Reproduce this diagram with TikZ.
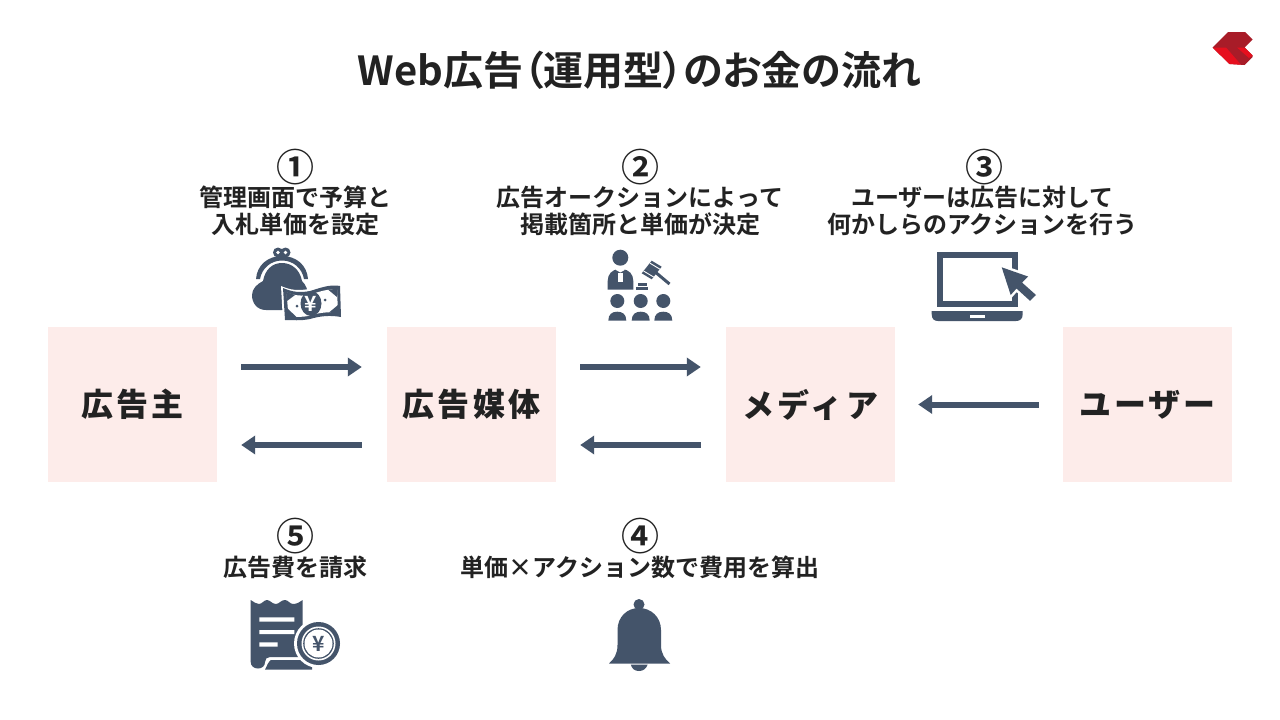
\documentclass[tikz,border=0pt]{standalone}
\usepackage{fontspec}
\usetikzlibrary{arrows.meta,calc}
\setmainfont{Noto Sans CJK JP}[BoldFont=* Bold]
\newfontfamily\spaced{Noto Sans CJK JP}[BoldFont=* Black,LetterSpace=10]
\newfontfamily\titlefont{Noto Sans CJK JP}[BoldFont=* Bold,RawFeature=+palt]
\definecolor{ink}{HTML}{44546A}
\definecolor{txt}{HTML}{222222}
\definecolor{pinkbox}{HTML}{FDECEA}
\definecolor{logodark}{HTML}{A81C28}
\definecolor{logolite}{HTML}{E60F1E}
\tikzset{
 actor/.style={fill=pinkbox,minimum width=169pt,minimum height=155pt,inner sep=0pt,text=txt,font=\spaced\bfseries\fontsize{32}{36}\selectfont},
 flow/.style={draw=ink,line width=6pt,-{Triangle[length=14pt,width=18pt]},shorten <=24pt,shorten >=25pt},
 flowback/.style={flow,shorten <=25pt,shorten >=24pt},
 lbl/.style={text=txt,align=center,inner sep=0pt,font=\bfseries\fontsize{24}{27}\selectfont},
 num/.style={text=txt,inner sep=0pt,font=\bfseries\fontsize{38}{40}\selectfont},
 icon/.style={fill=ink,draw=none},
 hole/.style={fill=white,draw=none}
}
\begin{document}
\begin{tikzpicture}[x=1pt,y=-1pt]
\useasboundingbox (0,0) rectangle (1280,720);
\fill[white] (0,0) rectangle (1280,720);
% title
\node[text=txt,inner sep=0pt,font=\titlefont\bfseries\fontsize{40}{44}\selectfont] (title) at (639.5,70) {Web広告（運用型）のお金の流れ};
% logo
\fill[logodark] (1212.5,47.5) -- (1228,32) -- (1245,32) -- (1252.5,39.5) -- (1244.5,47.5) -- (1252.5,55.5) -- (1252.5,57) -- (1244.5,65) -- (1229.5,64) -- cycle;
\fill[logolite] (1212.5,47.5) -- (1226,47.5) -- (1241,64.7) -- (1229.5,64) -- cycle;
\fill[logolite] (1237,47.5) -- (1244.5,47.5) -- (1252.5,55.5) -- (1249,58) -- cycle;
% boxes
\node[actor] (a) at (132.5,404.5) {広告主};
\node[actor] (b) at (471.5,404.5) {広告媒体};
\node[actor] (c) at (810.5,404.5) {メディア};
\node[actor] (d) at (1147.5,404.5) {ユーザー};
% arrows
\draw[flow] ($(a.east)+(0,-37.5)$) -- ($(b.west)+(0,-37.5)$);
\draw[flowback] ($(b.west)+(0,40.5)$) -- ($(a.east)+(0,40.5)$);
\draw[flow] ($(b.east)+(0,-37.5)$) -- ($(c.west)+(0,-37.5)$);
\draw[flowback] ($(c.west)+(0,40.5)$) -- ($(b.east)+(0,40.5)$);
\draw[flow,shorten <=24pt,shorten >=23pt] (d.west) -- (c.east);
% labels
\node[num] (n1) at (295,167) {①};
\node[num] (n2) at (640.5,167) {②};
\node[num] (n3) at (984,167) {③};
\node[num] (n5) at (295,536) {⑤};
\node[num] (n4) at (640.5,536) {④};
\node[lbl] (l1) at (295,210.5) {管理画面で予算と\\入札単価を設定};
\node[lbl] (l2) at (640,210.5) {広告オークションによって\\掲載箇所と単価が決定};
\node[lbl] (l3) at (982.5,210.5) {ユーザーは広告に対して\\何かしらのアクションを行う};
\node[lbl] (l5) at (295.5,567) {広告費を請求};
\node[lbl] (l4) at (640,567) {単価×アクション数で費用を算出};
% wallet
\fill[icon] (278,252.5) circle (5) (285.5,252.5) circle (5);
\fill[hole] (278,252.5) circle (1.8) (285.5,252.5) circle (1.8);
\fill[icon] (256,279) .. controls (257,265) and (268,256) .. (282,256) .. controls (296,256) and (307,265) .. (308,279) -- (304,279) .. controls (302,268) and (293,260.5) .. (282,260.5) .. controls (271,260.5) and (262,268) .. (260,279) -- cycle;
\fill[icon] (263,281) .. controls (265,270) and (272,263) .. (282,263) .. controls (292,263) and (300,270) .. (302,281) .. controls (306,285) and (308,290) .. (308,296) .. controls (308,306) and (298,310) .. (282,310) -- (266,310) .. controls (257,310) and (252,303) .. (252,295) .. controls (252,289) and (257,284) .. (263,281) -- cycle;
\fill[white] (281,286) .. controls (290,290) and (298,291) .. (309,289) .. controls (320,286) and (330,282) .. (342,284) -- (343,319) .. controls (330,317) and (320,318) .. (309,321) .. controls (300,323) and (292,322) .. (283,322) -- cycle;
\fill[icon] (283,288) .. controls (292,292) and (300,293) .. (310,291) .. controls (320,288) and (330,284) .. (340,286) -- (341,317) .. controls (330,315) and (320,316) .. (310,319) .. controls (300,321) and (293,320) .. (285,320) -- cycle;
\fill[hole] (286.5,292.5) .. controls (294,295.5) and (302,296.5) .. (310,294.5) .. controls (320,291.5) and (329,288.5) .. (337,289.5) -- (338,313) .. controls (329,311.5) and (320,312.5) .. (310,315.5) .. controls (302,317.5) and (295,317) .. (288.5,316.5) -- cycle;
\fill[icon] (286,292) -- (295,295) -- (287,301) -- cycle (288,317) -- (287,308) -- (297,317.5) -- cycle (337,289) -- (328,289.5) -- (337,297) -- cycle (338,313.5) -- (338,305) -- (329,312.5) -- cycle;
\fill[icon] (311,303.5) ellipse (10.5 and 12.5);
\fill[icon] (297,306) circle (1.5) (325,300) circle (1.5);
\node[text=white,inner sep=0pt,font=\bfseries\fontsize{21}{21}\selectfont] (yen1) at (311,303.5) {¥};
% judge
\fill[icon] (620.3,257.7) circle (8);
\fill[icon] (607.7,289.5) -- (607.7,281) .. controls (607.7,274) and (612,270) .. (618,269) -- (622.6,269) .. controls (629,270) and (633.3,274) .. (633.3,281) -- (633.3,289.5) -- cycle;
\fill[hole] (617.8,273) rectangle (622.8,281.5);
\fill[hole] (616,270) -- (620.3,272.5) -- (624.6,270) -- (624.6,269) -- (616,269) -- cycle;
\fill[icon] (651.7,260.7) -- (661.7,266.7) -- (651.7,279.3) -- (641.7,273.3) -- cycle;
\draw[white,line width=0.9pt] (650,263.2) -- (660,269.2);
\draw[white,line width=0.9pt] (643.6,271) -- (653.6,277);
\draw[ink,line width=3pt] (654,271) -- (669.5,284);
\fill[icon] (637.5,283.3) rectangle (646.5,286);
\fill[icon] (636.3,287) rectangle (647.5,289.5);
\foreach \hx in {617.3,640.7,663.3}{
 \fill[icon] (\hx,301) circle (7);
 \fill[icon] (\hx-9,320.7) .. controls (\hx-9,314) and (\hx-5,311.7) .. (\hx,311.7) .. controls (\hx+5,311.7) and (\hx+9,314) .. (\hx+9,320.7) -- cycle;
}
% laptop
\fill[icon] (936.7,252.3) rectangle (1018.3,306.7);
\fill[hole] (943.3,258.3) rectangle (1012.3,300.7);
\fill[icon] (931.7,311) -- (1022.7,311) -- (1022.7,314) .. controls (1022.7,319) and (1020,321) .. (1016,321) -- (938,321) .. controls (934,321) and (931.7,319) .. (931.7,314) -- cycle;
\fill[hole] (970,315.3) rectangle (985,317.7);
\draw[white,line width=5pt,line join=miter] (1001.7,267.3) -- (1010.7,295) -- (1016.5,288.5) -- (1030,300.8) -- (1036,295) -- (1022,282.5) -- (1028,276.5) -- cycle;
\fill[icon] (1001.7,267.3) -- (1010.7,295) -- (1016.5,288.5) -- (1030,300.8) -- (1036,295) -- (1022,282.5) -- (1028,276.5) -- cycle;
% receipt
\fill[icon] (250.7,600) .. controls (254,602) and (256,604) .. (259,604) .. controls (262,604) and (264,600) .. (267,600) .. controls (270,600) and (272,604) .. (276,604) .. controls (279,604) and (281,600) .. (285,600) .. controls (288,600) and (290,604) .. (293,604) .. controls (297,604) and (300,602) .. (302.7,600) -- (302.7,657) -- (270,657) .. controls (267,657) and (265,659) .. (265,662) .. controls (265,666) and (262,668.5) .. (258,668.5) .. controls (254,668.5) and (250.7,666) .. (250.7,662) -- cycle;
\fill[hole] (259.3,617.3) rectangle (294.3,621.7) (259.3,630) rectangle (294.3,634) (259.3,642.3) rectangle (277.7,646.7);
\fill[icon] (265,669.5) .. controls (267,666) and (268,662) .. (271,660) -- (312,660) -- (312,669.5) -- cycle;
\fill[hole] (318.5,643.5) circle (24.5);
\fill[icon] (318.5,643.5) circle (21.5);
\fill[hole] (318.5,643.5) circle (17);
\fill[icon] (318.5,643.5) circle (15.3);
\fill[hole] (318.5,643.5) circle (14);
\node[text=ink,inner sep=0pt,font=\bfseries\fontsize{21}{21}\selectfont] (yen2) at (318.5,643.5) {¥};
% bell
\fill[icon] (639,604.5) circle (5.5);
\fill[icon] (609,663.5) .. controls (614,659) and (617.5,654) .. (617.5,645) -- (617.5,630) .. controls (617.5,617) and (627,608) .. (639,608) .. controls (651,608) and (661,617) .. (661,630) -- (661,645) .. controls (661,654) and (665,659) .. (670,663.5) -- cycle;
\fill[icon] (630.7,664.5) -- (647.7,664.5) .. controls (646,669) and (643,671) .. (639,671) .. controls (635,671) and (632,669) .. (630.7,664.5) -- cycle;
\end{tikzpicture}
\end{document}
